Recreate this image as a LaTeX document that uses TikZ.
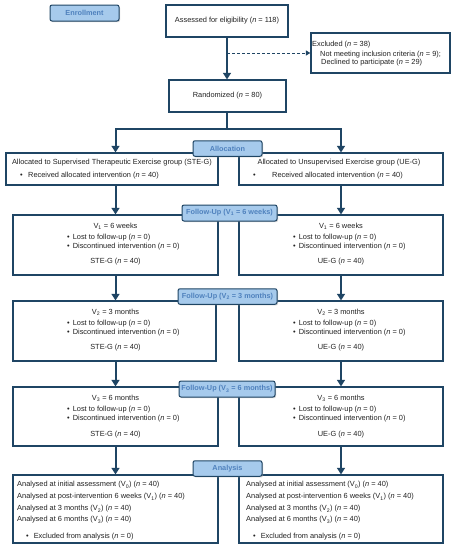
\documentclass[tikz,border=0pt]{standalone}
\usepackage{fontspec}
\setmainfont{Liberation Sans}
\usetikzlibrary{arrows.meta,fit,shadows,calc}
\definecolor{navy}{HTML}{1F4564}
\definecolor{lblfill}{HTML}{A6CAEC}
\definecolor{lbltext}{HTML}{4F81BD}
\definecolor{txt}{HTML}{222222}
\newcommand{\nn}{\textit{n}}
\begin{document}
\begin{tikzpicture}[x=1pt,y=-1pt,
  box/.style={draw=navy, line width=1.3pt, fill=white, inner sep=0pt, rectangle},
  lbl/.style={draw=navy, line width=1pt, fill=lblfill, rounded corners=2pt, inner sep=0pt,
     text=lbltext, font=\fontsize{7.3}{8}\selectfont\bfseries, minimum height=15.5pt,
     drop shadow={shadow xshift=1pt,shadow yshift=-1.2pt,fill=gray!70}},
  arr/.style={draw=navy, line width=2pt, -{Triangle[length=6.5pt,width=8pt]}},
  ln/.style={draw=navy, line width=2pt},
  darr/.style={draw=navy, line width=1pt, dashed, dash pattern=on 3pt off 2pt, -{Triangle[length=4.5pt,width=5pt]}},
  t/.style={inner sep=0pt, text=txt, font=\fontsize{7.4}{8}\selectfont},
  tw/.style={t, anchor=west},
]
\useasboundingbox (0,0) rectangle (456,550);
\fill[white] (0,0) rectangle (456,550);

% main boxes
\node[box, fit={(166,5)(288,37)}] (assess) {};
\node[box, fit={(311,33)(450,73)}] (excl) {};
\node[box, fit={(169,80)(286,112)}] (rand) {};
\node[box, fit={(6,153)(218,185)}] (allocL) {};
\node[box, fit={(239,153)(443,185)}] (allocR) {};
\node[box, fit={(13,215)(218,275)}] (v1L) {};
\node[box, fit={(239,215)(443,275)}] (v1R) {};
\node[box, fit={(13,301)(216,361)}] (v2L) {};
\node[box, fit={(239,301)(443,361)}] (v2R) {};
\node[box, fit={(13,387)(218,446)}] (v3L) {};
\node[box, fit={(239,387)(443,446)}] (v3R) {};
\node[box, fit={(13,475)(218,543)}] (anL) {};
\node[box, fit={(239,475)(443,543)}] (anR) {};

% connectors
\coordinate (exclpt) at (227,53);
\coordinate (split) at (227,129);
\draw[arr] (assess.south -| exclpt) -- (rand.north -| exclpt);
\draw[darr] (exclpt) -- (excl.west);
\draw[ln] (rand.south -| split) -- (split);
\draw[arr] (split) -| (allocL.north -| v1L.north);
\draw[arr] (split) -| (allocR.north -| v1R.north);
\draw[arr] (v1L.north |- allocL.south) -- (v1L.north);
\draw[arr] (allocR.south -| v1R.north) -- (v1R.north);
\draw[arr] (v1L.south) -- (v1L.south |- v2L.north);
\draw[arr] (v1R.south) -- (v2R.north -| v1R.south);
\draw[arr] (v2L.south -| v1L.south) -- (v3L.north -| v1L.south);
\draw[arr] (v2R.south) -- (v3R.north);
\draw[arr] (v3L.south) -- (anL.north -| v3L.south);
\draw[arr] (v3R.south) -- (anR.north);

% labels
\node[lbl, minimum width=69pt, minimum height=16pt] (enroll) at (84.5,13) {Enrollment};
\node[lbl, minimum width=69pt] (alloc) at (227.5,148.5) {Allocation};
\node[lbl, minimum width=95pt, minimum height=16pt] (fu1) at (229.5,213) {Follow-Up (V\textsubscript{1} = 6 weeks)};
\node[lbl, minimum width=99pt] (fu2) at (227.5,296.5) {Follow-Up (V\textsubscript{2} = 3 months)};
\node[lbl, minimum width=96pt, minimum height=16pt] (fu3) at (227,389) {Follow-Up (V\textsubscript{3} = 6 months)};
\node[lbl, minimum width=69pt] (anlbl) at (227.5,468.5) {Analysis};

% texts
\node[t] (ta) at (assess.center) {Assessed for eligibility (\nn{} = 118)};
\node[tw] (te1) at (312,45) {Excluded (\nn{} = 38)};
\node[tw] (te2) at (320,55) {Not meeting inclusion criteria (\nn{} = 9);};
\node[tw] (te3) at (321,63) {Declined to participate (\nn{} = 29)};
\node[t] (tr) at (rand.center) {Randomized (\nn{} = 80)};

\node[t] (tal1) at (112,163) {Allocated to Supervised Therapeutic Exercise group (STE-G)};
\node[tw] (tal2b) at (20,176) {\textbullet};
\node[tw] (tal2) at (28,176) {Received allocated intervention (\nn{} = 40)};
\node[t] (tar1) at (339,163) {Allocated to Unsupervised Exercise group (UE-G)};
\node[tw] (tar2b) at (253,176) {\textbullet};
\node[tw] (tar2) at (272,176) {Received allocated intervention (\nn{} = 40)};

% V1
\node[t] (l1a) at (115.5,226) {V\textsubscript{1} = 6 weeks};
\node[tw] (l1b) at (67,238) {\textbullet\hspace{3pt}Lost to follow-up (\nn{} = 0)};
\node[tw] (l1c) at (67,247) {\textbullet\hspace{3pt}Discontinued intervention (\nn{} = 0)};
\node[t] (l1d) at (115.5,262) {STE-G (\nn{} = 40)};
\node[t] (r1a) at (341,226) {V\textsubscript{1} = 6 weeks};
\node[tw] (r1b) at (293,238) {\textbullet\hspace{3pt}Lost to follow-up (\nn{} = 0)};
\node[tw] (r1c) at (293,247) {\textbullet\hspace{3pt}Discontinued intervention (\nn{} = 0)};
\node[t] (r1d) at (341,262) {UE-G (\nn{} = 40)};
% V2
\node[t] (l2a) at (115.5,312) {V\textsubscript{2} = 3 months};
\node[tw] (l2b) at (67,324) {\textbullet\hspace{3pt}Lost to follow-up (\nn{} = 0)};
\node[tw] (l2c) at (67,333) {\textbullet\hspace{3pt}Discontinued intervention (\nn{} = 0)};
\node[t] (l2d) at (115.5,348) {STE-G (\nn{} = 40)};
\node[t] (r2a) at (341,312) {V\textsubscript{2} = 3 months};
\node[tw] (r2b) at (293,324) {\textbullet\hspace{3pt}Lost to follow-up (\nn{} = 0)};
\node[tw] (r2c) at (293,333) {\textbullet\hspace{3pt}Discontinued intervention (\nn{} = 0)};
\node[t] (r2d) at (341,348) {UE-G (\nn{} = 40)};
% V3
\node[t] (l3a) at (115.5,398) {V\textsubscript{3} = 6 months};
\node[tw] (l3b) at (67,410) {\textbullet\hspace{3pt}Lost to follow-up (\nn{} = 0)};
\node[tw] (l3c) at (67,419) {\textbullet\hspace{3pt}Discontinued intervention (\nn{} = 0)};
\node[t] (l3d) at (115.5,435) {STE-G (\nn{} = 40)};
\node[t] (r3a) at (341,398) {V\textsubscript{3} = 6 months};
\node[tw] (r3b) at (293,410) {\textbullet\hspace{3pt}Lost to follow-up (\nn{} = 0)};
\node[tw] (r3c) at (293,419) {\textbullet\hspace{3pt}Discontinued intervention (\nn{} = 0)};
\node[t] (r3d) at (341,435) {UE-G (\nn{} = 40)};
% Analysis
\node[tw] (la1) at (17,485) {Analysed at initial assessment (V\textsubscript{0}) (\nn{} = 40)};
\node[tw] (la2) at (17,497) {Analysed at post-intervention 6 weeks (V\textsubscript{1}) (\nn{} = 40)};
\node[tw] (la3) at (17,509) {Analysed at 3 months (V\textsubscript{2}) (\nn{} = 40)};
\node[tw] (la4) at (17,520) {Analysed at 6 months (V\textsubscript{3}) (\nn{} = 40)};
\node[tw] (la5) at (26,537) {\textbullet\hspace{5pt}Excluded from analysis (\nn{} = 0)};
\node[tw] (ra1) at (246,485) {Analysed at initial assessment (V\textsubscript{0}) (\nn{} = 40)};
\node[tw] (ra2) at (246,497) {Analysed at post-intervention 6 weeks (V\textsubscript{1}) (\nn{} = 40)};
\node[tw] (ra3) at (246,509) {Analysed at 3 months (V\textsubscript{2}) (\nn{} = 40)};
\node[tw] (ra4) at (246,520) {Analysed at 6 months (V\textsubscript{3}) (\nn{} = 40)};
\node[tw] (ra5) at (253,537) {\textbullet\hspace{5pt}Excluded from analysis (\nn{} = 0)};
\end{tikzpicture}
\end{document}
